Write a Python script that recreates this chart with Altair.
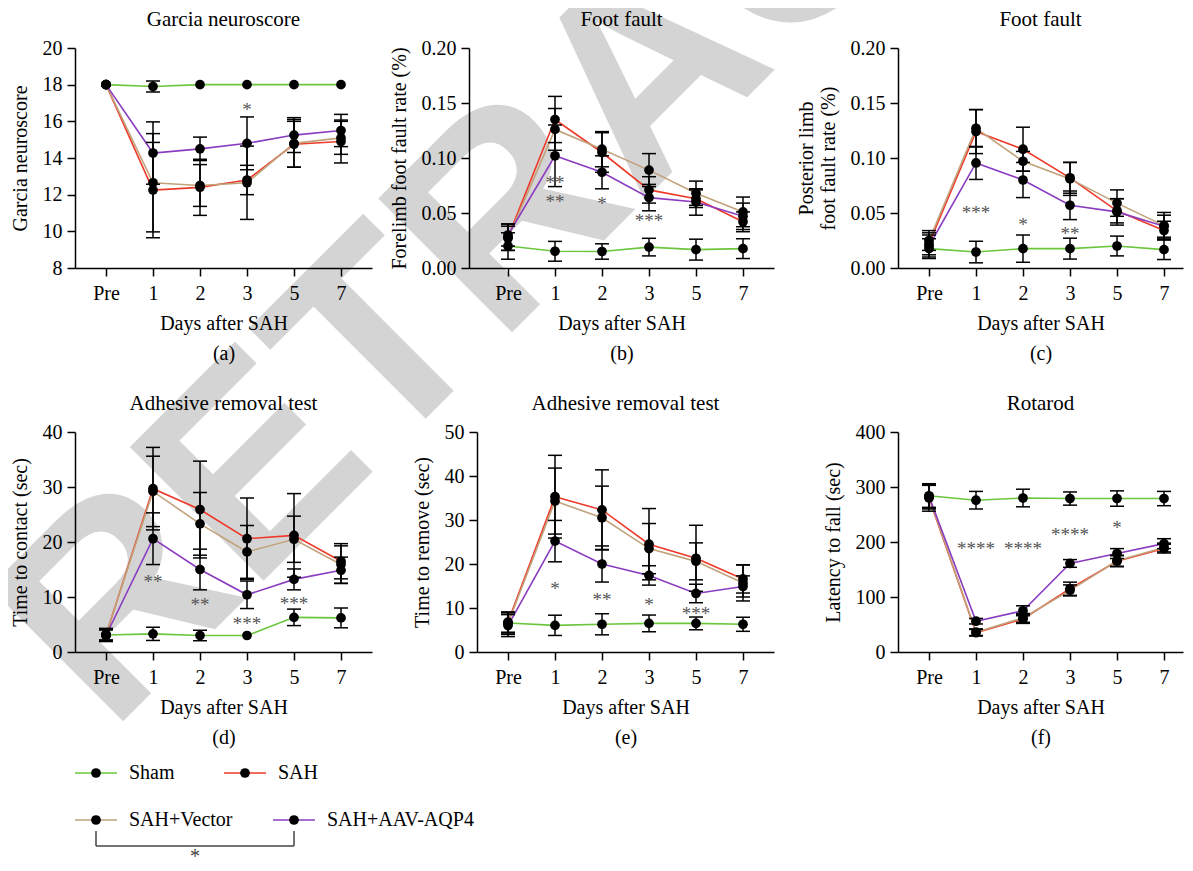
import json
import altair as alt
import pandas as pd

SERIF = "Liberation Serif"
DAYS = ["Pre", "1", "2", "3", "5", "7"]
GROUPS = ["Sham", "SAH", "SAH+Vector", "SAH+AAV-AQP4"]
COLORS = ["#6bc63d", "#ee3a2a", "#c1a27b", "#8a3cc0"]
WATERMARK = ["RETRACTED"]

# (a) Garcia neuroscore
A_MEAN = {
    "Sham": [18, 17.9, 18, 18, 18, 18],
    "SAH": [18, 12.25, 12.4, 12.8, 14.75, 14.9],
    "SAH+Vector": [18, 12.65, 12.5, 12.65, 14.8, 15.1],
    "SAH+AAV-AQP4": [18, 14.27, 14.5, 14.8, 15.25, 15.5],
}
A_SD = {
    "Sham": [0, 0.3, 0, 0, 0, 0],
    "SAH": [0, 2.6, 1.53, 0.8, 1.25, 1.17],
    "SAH+Vector": [0, 2.68, 1.14, 2.0, 1.3, 0.9],
    "SAH+AAV-AQP4": [0, 1.7, 0.64, 1.44, 0.95, 0.88],
}
A_STARS = [(3, 16.85, "*")]

# (b) Forelimb foot fault
B_MEAN = {
    "Sham": [0.020, 0.0152, 0.015, 0.019, 0.0167, 0.0176],
    "SAH": [0.028, 0.135, 0.105, 0.071, 0.063, 0.042],
    "SAH+Vector": [0.027, 0.126, 0.108, 0.089, 0.068, 0.051],
    "SAH+AAV-AQP4": [0.030, 0.102, 0.087, 0.064, 0.060, 0.047],
}
B_SD = {
    "Sham": [0.012, 0.009, 0.007, 0.008, 0.0095, 0.009],
    "SAH": [0.012, 0.021, 0.018, 0.012, 0.008, 0.009],
    "SAH+Vector": [0.011, 0.019, 0.016, 0.015, 0.011, 0.0135],
    "SAH+AAV-AQP4": [0.010, 0.028, 0.015, 0.012, 0.012, 0.012],
}
B_STARS = [(1, 0.081, "**"), (1, 0.0636, "**"), (2, 0.0615, "*"), (3, 0.046, "***")]

# (c) Posterior limb foot fault
C_MEAN = {
    "Sham": [0.0176, 0.0145, 0.0176, 0.0176, 0.020, 0.0167],
    "SAH": [0.022, 0.124, 0.108, 0.082, 0.052, 0.034],
    "SAH+Vector": [0.025, 0.127, 0.097, 0.081, 0.059, 0.0385],
    "SAH+AAV-AQP4": [0.020, 0.0955, 0.080, 0.057, 0.051, 0.038],
}
C_SD = {
    "Sham": [0.009, 0.0098, 0.0124, 0.0095, 0.009, 0.009],
    "SAH": [0.010, 0.020, 0.020, 0.014, 0.011, 0.0085],
    "SAH+Vector": [0.009, 0.017, 0.009, 0.015, 0.012, 0.012],
    "SAH+AAV-AQP4": [0.010, 0.015, 0.016, 0.013, 0.012, 0.010],
}
C_STARS = [(1, 0.054, "***"), (2, 0.0427, "*"), (3, 0.035, "**")]

# (d) Adhesive removal: time to contact
D_MEAN = {
    "Sham": [3.1, 3.3, 3.0, 3.0, 6.3, 6.2],
    "SAH": [3.1, 29.7, 25.9, 20.6, 21.2, 16.5],
    "SAH+Vector": [3.2, 29.2, 23.3, 18.2, 20.5, 15.9],
    "SAH+AAV-AQP4": [3.0, 20.6, 15.0, 10.4, 13.2, 14.85],
}
D_SD = {
    "Sham": [1.2, 1.2, 0.95, 0, 1.5, 1.8],
    "SAH": [1.0, 7.5, 8.8, 7.4, 7.6, 3.2],
    "SAH+Vector": [1.0, 6.4, 5.7, 4.8, 4.2, 3.4],
    "SAH+AAV-AQP4": [1.0, 4.7, 3.7, 2.5, 1.9, 2.4],
}
D_STARS = [(1, 13.45, "**"), (2, 9.3, "**"), (3, 5.9, "***"), (4, 9.4, "***")]

# (e) Adhesive removal: time to remove
E_MEAN = {
    "Sham": [6.6, 6.06, 6.3, 6.5, 6.5, 6.3],
    "SAH": [6.8, 35.3, 32.3, 24.5, 21.3, 16.6],
    "SAH+Vector": [6.5, 34.3, 30.5, 23.5, 20.6, 15.7],
    "SAH+AAV-AQP4": [6.0, 25.2, 20.0, 17.4, 13.3, 14.9],
}
E_SD = {
    "Sham": [2.3, 2.3, 2.4, 1.9, 1.45, 1.6],
    "SAH": [2.3, 9.4, 9.1, 8.1, 7.5, 3.2],
    "SAH+Vector": [2.5, 7.5, 7.2, 5.7, 4.2, 4.1],
    "SAH+AAV-AQP4": [2.5, 4.7, 4.1, 2.2, 2.1, 2.4],
}
E_STARS = [(1, 15.2, "*"), (2, 12.7, "**"), (3, 11.7, "*"), (4, 9.5, "***")]

# (f) Rotarod
F_MEAN = {
    "Sham": [284, 276, 280, 279, 279, 279],
    "SAH": [280, 35, 60, 115, 165, 188],
    "SAH+Vector": [282, 36, 62, 112, 166, 190],
    "SAH+AAV-AQP4": [283, 56, 75, 161, 179, 197],
}
F_SD = {
    "Sham": [22, 16, 16, 12, 14, 13],
    "SAH": [24, 6, 8, 12, 10, 8],
    "SAH+Vector": [22, 6, 8, 10, 10, 8],
    "SAH+AAV-AQP4": [20, 5, 9, 7, 9, 9],
}
F_STARS = [(1, 195, "****"), (2, 194, "****"), (3, 220, "****"), (4, 233, "*")]

# ---------------- layout / style ----------------
TOTAL_W, TOTAL_H = 1176, 850
STEP = 47          # px between day positions
PLOT_H = 220
CAP = 7 / STEP     # half width of error-bar caps in index units
TITLE_DY = -28

color_scale = alt.Scale(domain=GROUPS, range=COLORS)
label_expr = json.dumps(DAYS) + "[datum.value]"


def panel(mean, sd, stars, title, ytitle, ydom, yvals, caption,
          x0, y0, width, left_px, yfmt="d", ytitle_lh=None):
    rows = [{"group": g, "idx": i, "mean": m, "sd": s}
            for g in GROUPS for i, (m, s) in enumerate(zip(mean[g], sd[g]))]
    df = pd.DataFrame(rows)
    sdf = pd.DataFrame({"idx": [s[0] for s in stars],
                        "y": [s[1] for s in stars],
                        "label": [s[2] for s in stars]})
    xmin = -left_px / STEP
    xmax = xmin + width / STEP
    xs = alt.Scale(domain=[xmin, xmax], range=[x0, x0 + width], nice=False, zero=False)
    ys = alt.Scale(domain=ydom, range=[y0 + PLOT_H, y0], nice=False, zero=False)
    xaxis = alt.Axis(orient="bottom", offset=(y0 + PLOT_H) - TOTAL_H,
                     values=list(range(len(DAYS))), labelExpr=label_expr,
                     title=["Days after SAH", caption], labelFlush=False, zindex=2)
    ykw = dict(orient="left", offset=-x0, values=yvals, title=ytitle, format=yfmt,
               zindex=2)
    if ytitle_lh:
        ykw["titleLineHeight"] = ytitle_lh
    X = alt.X("idx:Q", scale=xs, axis=xaxis)
    Y = alt.Y("mean:Q", scale=ys, axis=alt.Axis(**ykw))

    base = alt.Chart(df)
    lines = base.mark_line(strokeWidth=1.6).encode(
        x=X, y=Y,
        color=alt.Color("group:N", scale=color_scale, legend=None),
        order=alt.Order("idx:Q"))
    errs = base.transform_filter("datum.sd > 0").transform_calculate(
        lo="datum.mean - datum.sd", hi="datum.mean + datum.sd"
    ).mark_rule(color="black", strokeWidth=1.5).encode(
        x="idx:Q", y="lo:Q", y2="hi:Q")
    caps = base.transform_filter("datum.sd > 0").transform_calculate(
        lo="datum.mean - datum.sd", hi="datum.mean + datum.sd",
        c1=f"datum.idx - {CAP}", c2=f"datum.idx + {CAP}"
    ).transform_fold(["lo", "hi"], as_=["end", "yv"]).mark_rule(
        color="black", strokeWidth=1.5).encode(x="c1:Q", x2="c2:Q", y="yv:Q")
    pts = base.mark_circle(size=95, color="black", opacity=1).encode(
        x="idx:Q", y="mean:Q")
    st = alt.Chart(sdf).mark_text(font=SERIF, fontSize=19, color="#555555",
                                  dy=4).encode(x="idx:Q", y="y:Q", text="label:N")
    tdf = pd.DataFrame({"cx": [(xmin + xmax) / 2], "cy": [ydom[1]], "t": [title]})
    ttl = alt.Chart(tdf).mark_text(font=SERIF, fontSize=21, color="black",
                                   baseline="middle", dy=TITLE_DY).encode(
        x="cx:Q", y="cy:Q", text="t:N")
    return alt.layer(lines, errs, caps, pts, st, ttl)


pa = panel(A_MEAN, A_SD, A_STARS, "Garcia neuroscore", "Garcia neuroscore",
           [8, 20], list(range(8, 21, 2)), "(a)", 67, 40, 297, 31)
pb = panel(B_MEAN, B_SD, B_STARS, "Foot fault", "Forelimb foot fault rate (%)",
           [0, 0.2], [0, 0.05, 0.1, 0.15, 0.2], "(b)", 461, 40, 305, 39, yfmt=".2f")
pc = panel(C_MEAN, C_SD, C_STARS, "Foot fault",
           ["Posterior limb", "foot fault rate (%)"],
           [0, 0.2], [0, 0.05, 0.1, 0.15, 0.2], "(c)", 890, 40, 285, 31,
           yfmt=".2f", ytitle_lh=22)
pd_ = panel(D_MEAN, D_SD, D_STARS, "Adhesive removal test", "Time to contact (sec)",
            [0, 40], [0, 10, 20, 30, 40], "(d)", 67, 424, 297, 31)
pe = panel(E_MEAN, E_SD, E_STARS, "Adhesive removal test", "Time to remove (sec)",
           [0, 50], [0, 10, 20, 30, 40, 50], "(e)", 469, 424, 297, 31)
pf = panel(F_MEAN, F_SD, F_STARS, "Rotarod", "Latency to fall (sec)",
           [0, 400], [0, 100, 200, 300, 400], "(f)", 890, 424, 285, 31)

# ---------------- custom legend (pixel layout) ----------------
LEG_X = [88, 237, 88, 286]
LEG_ROW = [0, 0, 1, 1]
ROW_Y = [765, 812]
leg_df = pd.DataFrame({"group": GROUPS, "lx": LEG_X,
                       "ly": [ROW_Y[r] for r in LEG_ROW]})
LX = alt.X("lx:Q", scale=None, axis=None)
LY = alt.Y("ly:Q", scale=None, axis=None)
lbase = alt.Chart(leg_df)
seg = lbase.transform_calculate(a="datum.lx - 21", b="datum.lx + 21").mark_rule(
    strokeWidth=1.6).encode(
    x=alt.X("a:Q", scale=None, axis=None), x2="b:Q", y=LY,
    color=alt.Color("group:N", scale=color_scale, legend=None))
ldot = lbase.mark_circle(size=95, color="black", opacity=1).encode(x=LX, y=LY)
ltxt = lbase.mark_text(align="left", baseline="middle", font=SERIF, fontSize=20,
                       color="black", dx=33).encode(x=LX, y=LY, text="group:N")
xv, xa = LEG_X[2], LEG_X[3]
yt, yb = ROW_Y[1] + 11, ROW_Y[1] + 26
br_df = pd.DataFrame({"x1": [xv, xa, xv], "x2": [xv, xa, xa],
                      "y1": [yt, yt, yb], "y2": [yb, yb, yb]})
bracket = alt.Chart(br_df).mark_rule(color="#444444", strokeWidth=1.5).encode(
    x=alt.X("x1:Q", scale=None, axis=None), x2="x2:Q",
    y=alt.Y("y1:Q", scale=None, axis=None), y2="y2:Q")
star_df = pd.DataFrame({"sx": [(xv + xa) / 2], "sy": [yb + 7], "t": ["*"]})
bstar = alt.Chart(star_df).mark_text(font=SERIF, fontSize=20, color="#444444",
                                     dy=4).encode(
    x=alt.X("sx:Q", scale=None, axis=None), y=alt.Y("sy:Q", scale=None, axis=None),
    text="t:N")
legend = alt.layer(seg, bracket, ldot, ltxt, bstar)

# ---------------- watermark ----------------
wm = alt.Chart(pd.DataFrame({"word": WATERMARK})).mark_text(
    font="Liberation Sans", fontWeight="bold", fontSize=275, color="#d4d4d4",
    angle=315, align="center", baseline="middle", clip=True).encode(
    text="word:N", x=alt.value(643), y=alt.value(68))

chart = alt.layer(wm, pa, pb, pc, pd_, pe, pf, legend).resolve_scale(
    x="independent", y="independent"
).properties(
    width=TOTAL_W, height=TOTAL_H, padding=0
).configure_view(stroke="transparent").configure_axis(
    grid=False, domainColor="black", domainWidth=1.5, tickColor="black",
    tickWidth=1.5, tickSize=8, labelFont=SERIF, labelFontSize=20,
    labelColor="black", titleFont=SERIF, titleFontSize=20,
    titleFontWeight="normal", titleColor="black", labelPadding=5
).configure_axisX(labelPadding=7, titlePadding=10, titleLineHeight=30
).configure_axisY(titlePadding=12)

chart.save("out.html", embed_options={"renderer": "svg", "actions": False})
